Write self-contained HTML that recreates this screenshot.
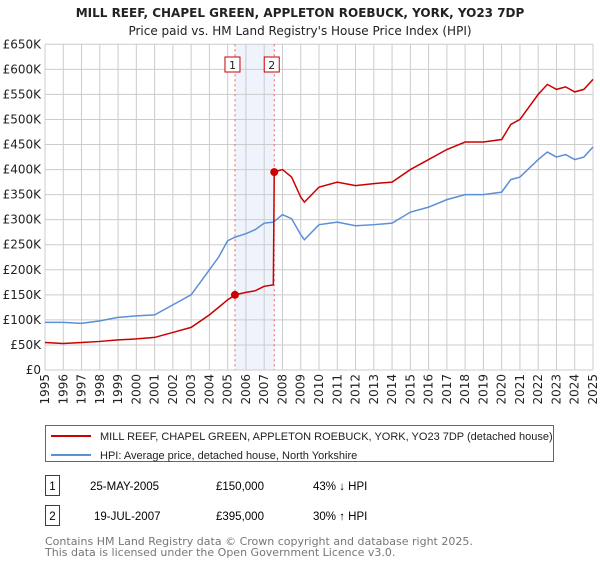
<!DOCTYPE html>
<html><head><meta charset="utf-8"><style>
body{margin:0;background:#fff;font-family:"Liberation Sans","DejaVu Sans",sans-serif;}
svg text{font-family:"DejaVu Sans","Liberation Sans",sans-serif;}
svg text.ls{font-family:"Liberation Sans","DejaVu Sans",sans-serif;}
</style></head><body>
<svg id="c" width="600" height="560" xmlns="http://www.w3.org/2000/svg">
<text x="300" y="17" text-anchor="middle" font-size="12" font-weight="bold" fill="#222">MILL REEF, CHAPEL GREEN, APPLETON ROEBUCK, YORK, YO23 7DP</text>
<text x="300" y="35" text-anchor="middle" font-size="12" fill="#222">Price paid vs. HM Land Registry's House Price Index (HPI)</text>
<g id="grid"></g><g id="marks"></g>
<rect x="45.5" y="425.5" width="508" height="36" fill="none" stroke="#666"/>
<line x1="51" y1="436" x2="91" y2="436" stroke="#cc0000" stroke-width="2"/>
<text class="ls" x="100" y="440" font-size="11" fill="#222">MILL REEF, CHAPEL GREEN, APPLETON ROEBUCK, YORK, YO23 7DP (detached house)</text>
<line x1="51" y1="455" x2="91" y2="455" stroke="#5b8fd6" stroke-width="2"/>
<text class="ls" x="100" y="459" font-size="11" fill="#222">HPI: Average price, detached house, North Yorkshire</text>
<rect x="45.5" y="475.5" width="14" height="20" fill="none" stroke="#cc0000"/>
<text class="ls" x="52.5" y="490" text-anchor="middle" font-size="11.5">1</text>
<text class="ls" x="90" y="490" font-size="11.5">25-MAY-2005</text>
<text class="ls" x="216" y="490" font-size="11.5">£150,000</text>
<text class="ls" x="313" y="490" font-size="11.5">43% ↓ HPI</text>
<rect x="45.5" y="505.5" width="14" height="20" fill="none" stroke="#cc0000"/>
<text class="ls" x="52.5" y="520" text-anchor="middle" font-size="11.5">2</text>
<text class="ls" x="94" y="520" font-size="11.5">19-JUL-2007</text>
<text class="ls" x="216" y="520" font-size="11.5">£395,000</text>
<text class="ls" x="313" y="520" font-size="11.5">30% ↑ HPI</text>
<text x="45" y="545" font-size="11" fill="#777">Contains HM Land Registry data © Crown copyright and database right 2025.</text>
<text x="45" y="556" font-size="11" fill="#777">This data is licensed under the Open Government Licence v3.0.</text>
</svg>
<script>
const hpiYears=[1995,1996,1997,1998,1999,2000,2001,2002,2003,2004,2004.5,2005,2005.4,2006,2006.5,2007,2007.5,2008,2008.5,2009,2009.2,2010,2011,2012,2013,2014,2015,2016,2017,2018,2019,2020,2020.5,2021,2022,2022.5,2023,2023.5,2024,2024.5,2025];
const hpiValues=[95,95,93,98,105,108,110,130,150,200,225,258,265,272,280,293,295,310,302,270,260,290,295,288,290,293,315,325,340,350,350,355,380,385,420,435,425,430,420,425,445];
const propYears=[1995,1996,1997,1998,1999,2000,2001,2002,2003,2004,2004.5,2005,2005.4,2006,2006.5,2007,2007.5,2007.55,2008,2008.5,2009,2009.2,2010,2011,2012,2013,2014,2015,2016,2017,2018,2019,2020,2020.5,2021,2022,2022.5,2023,2023.5,2024,2024.5,2025];
const propValues=[55,53,55,57,60,62,65,75,85,110,125,140,150,155,158,167,170,395,400,385,345,335,365,375,368,372,375,400,420,440,455,455,460,490,500,550,570,560,565,555,560,580];
const saleYears=[2005.4,2007.55];
const saleValues=[150,395];
const saleLabels=["1","2"];
const yTicks=[0,50,100,150,200,250,300,350,400,450,500,550,600,650];
const yTickLabels=["£0","£50K","£100K","£150K","£200K","£250K","£300K","£350K","£400K","£450K","£500K","£550K","£600K","£650K"];
const xTicks=[1995,1996,1997,1998,1999,2000,2001,2002,2003,2004,2005,2006,2007,2008,2009,2010,2011,2012,2013,2014,2015,2016,2017,2018,2019,2020,2021,2022,2023,2024,2025];

const NS="http://www.w3.org/2000/svg";
const L=45,R=593,T=44.3,B=370;
const xs=y=>L+(y-1995)/30*(R-L);
const ys=v=>B-v/650*(B-T);
function mk(tag,attrs,parent){const e=document.createElementNS(NS,tag);for(const k in attrs)e.setAttribute(k,attrs[k]);parent.appendChild(e);return e;}
const grid=document.getElementById('grid'),marks=document.getElementById('marks');
let r=mk('rect',{x:xs(saleYears[0]),y:T,width:xs(saleYears[1])-xs(saleYears[0]),height:B-T,fill:'#eef3fc'},grid);


yTicks.forEach((v,i)=>{
 let l=mk('line',{x1:L,x2:R,y1:ys(v),y2:ys(v),stroke:'#ccc'},grid);
 
 
 let t=mk('text',{x:L-4,y:ys(v)+4,'text-anchor':'end','font-size':'12',fill:'#222'},grid);
 t.textContent=yTickLabels[i];
 
 
});
xTicks.forEach(y=>{
 let l=mk('line',{x1:xs(y),x2:xs(y),y1:T,y2:B,stroke:'#ccc'},grid);
 
 
 let t=mk('text',{x:0,y:0,'text-anchor':'end','font-size':'12',fill:'#222',transform:`translate(${xs(y)+4},374) rotate(-90)`},grid);
 t.textContent=y;
 
 
});
saleYears.forEach((y,i)=>{
 let l=mk('line',{x1:xs(y),x2:xs(y),y1:T,y2:B,stroke:'#f06060','stroke-dasharray':'2,3'},grid);
 
 
 let b=mk('rect',{x:xs(y)-10,y:57,width:15,height:15,fill:'#fff',stroke:'#cc0000'},grid);
 
 
 let t=mk('text',{x:xs(y)-2.5,y:69,'text-anchor':'middle','font-size':'11',fill:'#222'},grid);
 t.textContent=saleLabels[i];
 
 
});
let h=mk('polyline',{points:hpiYears.map((y,i)=>xs(y)+','+ys(hpiValues[i])).join(' '),fill:'none',stroke:'#5b8fd6','stroke-width':'1.5'},marks);


let p=mk('polyline',{points:propYears.map((y,i)=>xs(y)+','+ys(propValues[i])).join(' '),fill:'none',stroke:'#cc0000','stroke-width':'1.5'},marks);


saleYears.forEach((y,i)=>{
 let c=mk('circle',{cx:xs(y),cy:ys(saleValues[i]),r:4,fill:'#cc0000'},marks);
 
 
});
</script>
</body></html>
